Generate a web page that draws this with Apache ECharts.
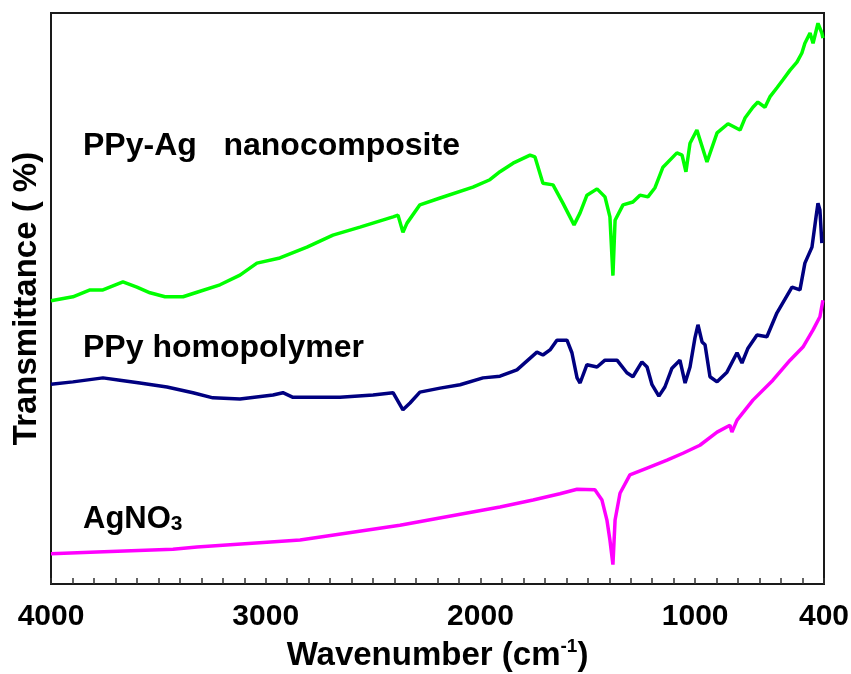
<!DOCTYPE html>
<html>
<head>
<meta charset="utf-8">
<title>FTIR spectra</title>
<script src="https://cdn.jsdelivr.net/npm/echarts@6/dist/echarts.min.js"></script>
<style>
  html, body { margin: 0; padding: 0; background: #fff; }
  #chart { width: 851px; height: 674px; }
</style>
</head>
<body>
<div id="chart"></div>
<script>
// wavenumber (cm-1) / transmittance (arbitrary %, offset spectra)
const ppyAgData = [
  [4000, 49.6], [3898, 50.3], [3818, 51.5], [3758, 51.5], [3665, 52.9], [3600, 52.0],
  [3539, 51.0], [3469, 50.3], [3385, 50.3], [3320, 51.1], [3213, 52.4], [3120, 54.1],
  [3041, 56.2], [2934, 57.1], [2808, 59.0], [2687, 61.1], [2561, 62.5], [2407, 64.3],
  [2384, 64.6], [2361, 61.6], [2342, 63.2], [2282, 66.4], [2188, 67.6], [2035, 69.5],
  [1956, 70.8], [1909, 72.2], [1848, 73.7], [1769, 75.1], [1746, 74.8], [1709, 70.2],
  [1662, 69.9], [1616, 66.7], [1564, 62.9], [1536, 65.0], [1504, 68.1], [1457, 69.2],
  [1420, 67.8], [1397, 64.3], [1383, 54.0], [1373, 63.7], [1336, 66.4], [1290, 66.9],
  [1257, 68.1], [1220, 67.8], [1187, 69.4], [1150, 73.0], [1085, 75.5], [1061, 75.1],
  [1043, 72.2], [1024, 77.2], [992, 79.5], [945, 73.9], [898, 79.0], [847, 80.6],
  [791, 79.5], [768, 81.6], [731, 83.5], [708, 84.4], [675, 83.5], [652, 85.3],
  [619, 86.9], [591, 88.3], [558, 90.0], [526, 91.4], [503, 93.0], [489, 94.7],
  [465, 96.5], [451, 94.7], [428, 98.2], [410, 96.5], [405, 95.6]
]

const ppyData = [
  [4000, 35.0], [3898, 35.4], [3758, 36.1], [3679, 35.7], [3586, 35.2], [3460, 34.5],
  [3339, 33.5], [3246, 32.6], [3120, 32.4], [2966, 33.1], [2920, 33.5], [2873, 32.7],
  [2654, 32.7], [2500, 33.1], [2407, 33.5], [2361, 30.5], [2328, 31.7], [2282, 33.6],
  [2188, 34.3], [2095, 34.9], [1988, 36.1], [1909, 36.4], [1830, 37.5], [1737, 40.6],
  [1709, 40.1], [1676, 41.0], [1644, 42.7], [1597, 42.7], [1574, 40.5], [1550, 36.1],
  [1536, 35.2], [1504, 38.4], [1457, 38.0], [1420, 39.2], [1364, 39.2], [1318, 37.0],
  [1290, 36.3], [1248, 38.9], [1224, 38.0], [1201, 34.9], [1169, 32.9], [1141, 34.5],
  [1108, 37.8], [1071, 39.2], [1047, 35.2], [1024, 38.0], [1001, 43.1], [987, 45.4],
  [968, 42.4], [954, 41.9], [931, 36.3], [898, 35.4], [852, 37.1], [805, 40.5],
  [782, 38.7], [754, 41.3], [712, 43.6], [666, 43.3], [619, 47.5], [549, 52.0],
  [512, 51.5], [489, 56.2], [456, 59.0], [437, 64.3], [428, 66.7], [419, 65.5],
  [410, 59.7]
]

const agno3Data = [
  [4000, 5.3], [3786, 5.6], [3432, 6.1], [3320, 6.5], [2840, 7.7], [2375, 10.3],
  [1909, 13.5], [1755, 14.7], [1630, 15.8], [1550, 16.6], [1467, 16.5], [1434, 14.7],
  [1411, 11.2], [1397, 7.7], [1383, 3.4], [1373, 11.2], [1350, 15.9], [1304, 19.1],
  [1224, 20.3], [1131, 21.7], [1057, 22.9], [978, 24.3], [898, 26.6], [838, 27.8],
  [829, 26.6], [805, 28.7], [731, 32.2], [638, 35.7], [558, 39.2], [498, 41.5],
  [451, 44.5], [419, 46.8], [405, 49.7]
]

const tickLabels = [4000, 3000, 2000, 1000, 400]

const seriesNames = ['PPy-Ag   nanocomposite', 'PPy homopolymer', 'AgNO3']
const seriesColors = ['#00ff00', '#000080', '#ff00ff']

const chart = echarts.init(document.getElementById('chart'))

const lineSeries = (name, data, color) => ({
  name: name,
  type: 'line',
  data: data,
  showSymbol: false,
  smooth: false,
  lineStyle: { color: color, width: 3.5 },
  itemStyle: { color: color },
  silent: true
})

const option = {
  animation: false,
  textStyle: { fontFamily: 'Liberation Sans, Arial, sans-serif' },
  grid: {
    left: 51, right: 27, top: 13, bottom: 90,
    outerBoundsMode: 'none',
    containLabel: false,
    show: true, borderColor: '#1a1a1a', borderWidth: 2
  },
  xAxis: {
    type: 'value',
    inverse: true,
    min: 400,
    max: 4000,
    interval: 100,
    name: '{a|Wavenumber (cm}{s|-1}{a|)}',
    nameLocation: 'middle',
    nameGap: 45,
    nameTextStyle: {
      rich: {
        a: { fontSize: 33, fontWeight: 'bold', color: '#000', lineHeight: 38, fontFamily: 'Liberation Sans' },
        s: { fontSize: 19, fontWeight: 'bold', color: '#000', lineHeight: 19, verticalAlign: 'top', fontFamily: 'Liberation Sans' }
      }
    },
    axisLine: { show: true, lineStyle: { color: '#1a1a1a', width: 2 } },
    axisTick: { show: true, inside: true, length: 6, interval: 0, lineStyle: { color: '#333', width: 1.5 } },
    axisLabel: {
      interval: 0,
      margin: 18,
      fontSize: 30,
      fontWeight: 'bold',
      color: '#000',
      formatter: v => tickLabels.includes(v) ? String(v) : ''
    },
    splitLine: { show: false }
  },
  yAxis: {
    type: 'value',
    min: 0,
    max: 100,
    name: 'Transmittance ( %)',
    nameLocation: 'middle',
    nameRotate: 90,
    nameGap: 8,
    nameTextStyle: { fontSize: 33, fontWeight: 'bold', color: '#000' },
    axisLine: { show: true, lineStyle: { color: '#1a1a1a', width: 2 } },
    axisTick: { show: false },
    axisLabel: { show: false },
    splitLine: { show: false }
  },
  graphic: [
    {
      type: 'text', left: 83, top: 130, silent: true,
      style: { text: seriesNames[0], fontSize: 32, fontWeight: 'bold', fill: '#000', fontFamily: 'Liberation Sans' }
    },
    {
      type: 'text', left: 83, top: 332, silent: true,
      style: { text: seriesNames[1], fontSize: 32, fontWeight: 'bold', fill: '#000', fontFamily: 'Liberation Sans' }
    },
    {
      type: 'text', left: 83, top: 504, silent: true,
      style: {
        text: '{a|AgNO}{b|3}',
        rich: {
          a: { fontSize: 31, fontWeight: 'bold', fill: '#000', fontFamily: 'Liberation Sans', lineHeight: 35, verticalAlign: 'bottom' },
          b: { fontSize: 21, fontWeight: 'bold', fill: '#000', fontFamily: 'Liberation Sans', lineHeight: 14, verticalAlign: 'bottom' }
        }
      }
    }
  ],
  series: [
    lineSeries(seriesNames[0], ppyAgData, seriesColors[0]),
    lineSeries(seriesNames[1], ppyData, seriesColors[1]),
    lineSeries(seriesNames[2], agno3Data, seriesColors[2])
  ]
}

chart.setOption(option)
</script>
</body>
</html>
